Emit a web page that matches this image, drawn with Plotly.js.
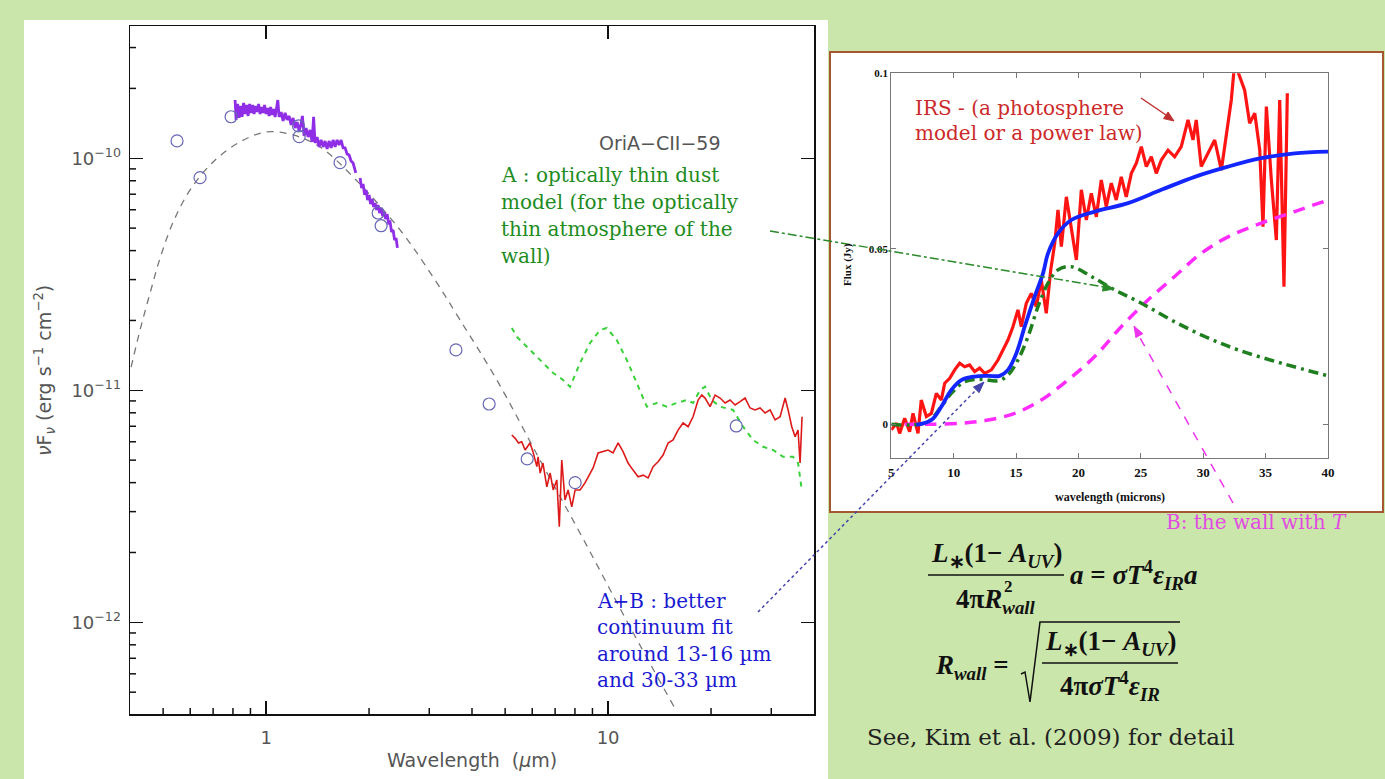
<!DOCTYPE html>
<html>
<head>
<meta charset="utf-8">
<script src="https://cdn.plot.ly/plotly-3.0.1.min.js"></script>
<style>html,body{margin:0;padding:0;background:#cbe6aa;}#chart{width:1385px;height:779px;}</style>
</head>
<body>
<div id="chart"></div>
<script>
// ---------------- DATA (main SED panel) ----------------
// photometry (micron, erg s^-1 cm^-2)
const sedWave = [0.549, 0.641, 0.790, 1.244, 1.249, 1.645, 2.126, 2.169, 3.59, 4.49, 5.80, 8.01, 23.7];
const sedFlux = [1.188e-10, 8.25e-11, 1.51e-10, 1.378e-10, 1.239e-10, 9.57e-11, 5.81e-11, 5.12e-11, 1.493e-11, 8.73e-12, 5.06e-12, 4.0e-12, 7.02e-12];

// photosphere (dashed grey)
const bbWave = [0.403, 0.428, 0.458, 0.490, 0.535, 0.5995, 0.700, 0.839, 1.0, 1.199, 1.438, 1.796, 2.464, 3.077, 3.69, 4.73, 6.32, 8.40, 11.59, 15.6];
const bbFlux = [1.259e-11, 1.82e-11, 2.627e-11, 3.72e-11, 5.31e-11, 7.30e-11, 9.64e-11, 1.176e-10, 1.298e-10, 1.26e-10, 1.119e-10, 8.31e-11, 4.91e-11, 3.08e-11, 2.01e-11, 1.107e-11, 5.01e-12, 2.33e-12, 9.55e-13, 4.32e-13];

// optical / NIR spectrum (purple), null = gap
const specWave = [0.8116,0.8171,0.8254,0.8337,0.8423,0.8508,0.8595,0.8682,0.8770,0.8859,0.8949,0.9040,0.9132,0.9224,0.9318,0.9412,0.9508,0.9604,0.9701,0.9800,0.9899,1.0,1.0102,1.0204,1.0308,1.0412,1.0518,1.0625,1.0732,1.0820,1.0915,1.1063,1.1212,1.1365,1.1519,1.1675,1.1834,1.1994,1.2157,1.2322,1.2489,1.2658,1.2769,1.2915,1.3090,1.3268,1.3448,1.3630,1.3768,1.3908,1.4097,1.4288,1.4482,1.4678,1.4877,1.5079,1.5283,1.5491,1.5701,1.5913,1.6129,1.6348,1.6569,1.6794,1.7022,1.7252,1.7486,1.7724,1.7964,1.8207,1.8293,null,1.8831,1.9022,1.9215,1.9410,1.9607,1.9806,2.0007,2.0210,2.0415,2.0623,2.0832,2.1043,2.1257,2.1473,2.1691,2.1911,2.2133,2.2358,2.2585,2.2814,2.3046,2.3280,2.3516,2.3755,2.3996,2.4207];
const specFlux = [1.783e-10,1.463e-10,1.714e-10,1.492e-10,1.680e-10,1.507e-10,1.731e-10,1.552e-10,1.697e-10,1.522e-10,1.714e-10,1.568e-10,1.697e-10,1.552e-10,1.680e-10,1.583e-10,1.714e-10,1.552e-10,1.664e-10,1.568e-10,1.697e-10,1.552e-10,1.647e-10,1.522e-10,1.664e-10,1.537e-10,1.631e-10,1.507e-10,1.647e-10,1.783e-10,1.507e-10,1.583e-10,1.448e-10,1.568e-10,1.463e-10,1.522e-10,1.392e-10,1.492e-10,1.351e-10,1.434e-10,1.311e-10,1.405e-10,1.522e-10,1.248e-10,1.351e-10,1.235e-10,1.324e-10,1.176e-10,1.507e-10,1.164e-10,1.235e-10,1.119e-10,1.199e-10,1.119e-10,1.187e-10,1.097e-10,1.187e-10,1.108e-10,1.199e-10,1.119e-10,1.199e-10,1.141e-10,1.199e-10,1.108e-10,1.108e-10,1.044e-10,1.033e-10,9.74e-11,9.54e-11,8.90e-11,8.64e-11,null,8.22e-11,7.45e-11,7.75e-11,6.95e-11,7.30e-11,6.61e-11,6.95e-11,6.35e-11,6.68e-11,6.17e-11,6.42e-11,5.99e-11,6.29e-11,5.81e-11,6.11e-11,5.64e-11,5.87e-11,5.47e-11,5.75e-11,5.26e-11,5.31e-11,4.81e-11,4.91e-11,4.44e-11,4.53e-11,4.11e-11];

// IRS spectrum (red)
const irsWave = [5.23,5.35,5.47,5.59,5.72,5.91,6.03,6.19,6.24,6.33,6.45,6.62,6.77,6.91,7.08,7.20,7.32,7.48,7.64,7.83,8.01,8.28,8.56,8.74,9.04,9.35,9.67,10.0,10.34,10.70,11.06,11.44,11.83,12.24,12.66,13.09,13.54,14.00,14.48,14.98,15.49,16.02,16.57,17.14,17.72,18.33,18.79,19.21,19.87,20.56,21.26,21.99,22.74,23.51,24.32,25.15,26.01,26.90,27.82,28.78,29.76,30.78,31.84,32.93,33.60,34.44,35.22,35.93,36.42,36.91];
const irsFlux = [6.42e-12,6.21e-12,5.93e-12,6.00e-12,5.53e-12,5.93e-12,5.44e-12,4.69e-12,5.17e-12,4.40e-12,4.86e-12,3.84e-12,4.40e-12,3.72e-12,4.11e-12,2.58e-12,5.01e-12,3.37e-12,3.72e-12,3.15e-12,3.72e-12,3.72e-12,3.99e-12,4.24e-12,4.63e-12,5.37e-12,5.44e-12,5.53e-12,5.37e-12,5.93e-12,5.44e-12,4.86e-12,4.53e-12,4.24e-12,4.31e-12,4.19e-12,4.69e-12,4.92e-12,5.26e-12,5.93e-12,6.11e-12,6.74e-12,7.23e-12,6.97e-12,7.69e-12,9.08e-12,9.54e-12,9.26e-12,8.50e-12,9.54e-12,9.26e-12,8.82e-12,9.08e-12,8.64e-12,8.93e-12,9.26e-12,8.39e-12,8.23e-12,8.39e-12,7.98e-12,8.23e-12,7.45e-12,7.69e-12,9.26e-12,8.23e-12,6.97e-12,6.31e-12,6.74e-12,4.86e-12,7.69e-12];

// optically thin dust model (green dashed)
const dustWave = [5.23,5.41,5.64,6.03,6.45,6.91,7.39,7.74,8.28,8.86,9.48,9.91,10.60,11.34,12.13,12.98,13.88,14.85,15.88,16.99,17.72,18.58,19.21,20.10,21.26,23.20,24.81,26.55,28.39,30.37,32.49,34.75,35.93,36.84];
const dustFlux = [1.856e-11,1.70e-11,1.60e-11,1.448e-11,1.311e-11,1.187e-11,1.108e-11,1.036e-11,1.311e-11,1.60e-11,1.82e-11,1.856e-11,1.647e-11,1.351e-11,1.075e-11,8.50e-12,8.82e-12,8.50e-12,8.82e-12,9.08e-12,8.82e-12,1.003e-11,1.036e-11,9.08e-12,8.50e-12,8.23e-12,6.97e-12,6.11e-12,5.71e-12,5.53e-12,5.17e-12,5.17e-12,4.86e-12,3.72e-12];

// ---------------- DATA (inset, Jy vs micron) ----------------
const inIrsWave = [5.0,5.43,5.67,6.07,6.47,6.74,7.14,7.40,7.81,8.21,8.61,9.01,9.28,9.68,10.08,10.48,10.88,11.28,11.68,12.08,12.49,13.02,13.55,13.95,14.35,14.75,15.15,15.42,15.82,16.22,16.62,17.02,17.42,17.78,18.10,18.36,18.63,19.03,19.43,19.83,20.23,20.63,21.03,21.43,21.83,22.23,22.63,23.03,23.43,23.83,24.24,24.64,25.04,25.44,25.84,26.24,26.64,27.18,27.71,28.24,28.78,29.18,29.44,29.84,30.38,30.92,31.45,31.85,32.25,32.52,32.92,33.32,33.72,34.13,34.53,34.79,35.06,35.46,35.86,36.13,36.47,36.74];
const inIrsFlux = [-0.0016,0.0003,-0.0026,0.0017,-0.0021,0.0031,-0.0026,0.0069,0.0022,0.0031,0.0088,0.0069,0.0117,0.0131,0.0155,0.0174,0.0164,0.0169,0.0150,0.0160,0.0145,0.0155,0.0183,0.0212,0.0240,0.0278,0.0326,0.0278,0.0345,0.0373,0.0335,0.0411,0.0316,0.0440,0.0516,0.0611,0.0506,0.0648,0.0563,0.0468,0.0668,0.0582,0.0658,0.0591,0.0696,0.0620,0.0687,0.0639,0.0705,0.0648,0.0715,0.0744,0.0791,0.0734,0.0762,0.0715,0.0753,0.0781,0.0762,0.0791,0.0867,0.0810,0.0867,0.0734,0.0772,0.0810,0.0724,0.0829,0.0924,0.1030,0.0990,0.0952,0.0858,0.0886,0.0781,0.0563,0.0905,0.0696,0.0525,0.0924,0.0392,0.0943];
const fitWave = [7.0,8.21,9.01,9.81,10.61,11.68,12.75,13.69,14.35,15.02,15.69,16.49,17.16,17.56,18.36,19.43,21.30,23.97,26.64,29.32,31.99,34.65,37.33,40.0];
const fitFlux = [-0.0002,0.0012,0.0050,0.0098,0.0126,0.0136,0.0138,0.0138,0.0155,0.0202,0.0278,0.0364,0.0430,0.0487,0.0544,0.0582,0.0606,0.0630,0.0668,0.0705,0.0734,0.0758,0.0772,0.0777];
const modelAWave = [5.0,6.6,7.94,9.0,9.81,10.88,12.21,13.55,14.35,15.15,15.96,16.76,17.56,18.36,19.43,21.03,22.90,25.04,27.44,30.12,32.79,36.26,40.0];
const modelAFlux = [0,-0.0002,0.0007,0.005,0.0088,0.0121,0.0128,0.0124,0.0140,0.0183,0.0250,0.0335,0.0402,0.0440,0.0449,0.0421,0.0383,0.0345,0.0297,0.0250,0.0212,0.0174,0.0138];
const wallWave = [6.07,7.94,10.61,12.75,14.89,17.02,19.16,21.30,23.43,25.57,27.71,29.84,31.99,34.65,37.33,40.0];
const wallFlux = [0,0,0.0003,0.0012,0.0031,0.0069,0.0126,0.0193,0.0278,0.0354,0.0421,0.0487,0.0534,0.0573,0.0606,0.0639];

// tick labels
const mainXTicks = [1, 10];
const mainXTickText = ['1', '10'];
const mainXMinor = [0.5,0.6,0.7,0.8,0.9,2,3,4,5,6,7,8,9,20,30];
const mainYTicks = [1e-12, 1e-11, 1e-10];
const mainYTickText = ['10<sup>−12</sup>', '10<sup>−11</sup>', '10<sup>−10</sup>'];
const mainYMinor = [5e-13,6e-13,7e-13,8e-13,9e-13,2e-12,3e-12,4e-12,5e-12,6e-12,7e-12,8e-12,9e-12,2e-11,3e-11,4e-11,5e-11,6e-11,7e-11,8e-11,9e-11,2e-10,3e-10];
const insetXTicks = [5,10,15,20,25,30,35,40];
const insetYTicks = [0, 0.05, 0.1];
const insetYTickText = ['0', '0.05', '0.1'];

// ---------------- LAYOUT HELPERS ----------------
const W = 1385, H = 779;
const px = x => x / W;
const py = y => 1 - y / H;
const xMainRange = [Math.log10(0.4), Math.log10(40)];
const yMainRange = [-12.395, -9.43];

const traces = [
  {x: bbWave, y: bbFlux, type: 'scatter', mode: 'lines', line: {color: '#777', width: 1.3, dash: '7px,6px', shape: 'spline'}, xaxis: 'x', yaxis: 'y', hoverinfo: 'skip'},
  {x: dustWave, y: dustFlux, type: 'scatter', mode: 'lines', line: {color: '#3bd13b', width: 2, dash: '5px,5px'}, xaxis: 'x', yaxis: 'y'},
  {x: irsWave, y: irsFlux, type: 'scatter', mode: 'lines', line: {color: '#dd1a1a', width: 1.6}, xaxis: 'x', yaxis: 'y'},
  {x: specWave, y: specFlux, type: 'scatter', mode: 'lines', connectgaps: false, line: {color: '#8f2ee6', width: 2.8}, xaxis: 'x', yaxis: 'y'},
  {x: sedWave, y: sedFlux, type: 'scatter', mode: 'markers', marker: {symbol: 'circle-open', size: 12, color: '#6767b5', line: {width: 1.2}}, xaxis: 'x', yaxis: 'y'},
  // inset
  {x: inIrsWave, y: inIrsFlux, type: 'scatter', mode: 'lines', line: {color: '#ff1414', width: 3.2}, xaxis: 'x2', yaxis: 'y2'},
  {x: wallWave, y: wallFlux, type: 'scatter', mode: 'lines', line: {color: '#ff2bff', width: 3.5, dash: '12px,8px', shape: 'spline'}, xaxis: 'x2', yaxis: 'y2'},
  {x: modelAWave, y: modelAFlux, type: 'scatter', mode: 'lines', line: {color: '#1f7f1f', width: 3.5, dash: '10px,5px,3px,5px', shape: 'spline'}, xaxis: 'x2', yaxis: 'y2'},
  {x: fitWave, y: fitFlux, type: 'scatter', mode: 'lines', line: {color: '#1426ff', width: 3.8, shape: 'spline'}, xaxis: 'x2', yaxis: 'y2'}
];

const gray = '#555';
const serif = 'DejaVu Serif';
const eqFont = {family: 'Liberation Serif', size: 27, color: '#111', weight: 'bold'};

function txt(t, x, y, opts) {
  return Object.assign({text: t, x: px(x), y: py(y), xref: 'paper', yref: 'paper', showarrow: false, xanchor: 'left', yanchor: 'middle'}, opts || {});
}
// filled arrow head (triangle) pointing from tail (tx,ty) to head (hx,hy), pixel coords
function headShape(hx, hy, tx, ty, color, len, half) {
  const dx = hx - tx, dy = hy - ty, d = Math.hypot(dx, dy);
  const ux = dx / d, uy = dy / d, nx = -uy, ny = ux;
  const bx = hx - len * ux, by = hy - len * uy;
  const p = [[hx, hy], [bx + half * nx, by + half * ny], [bx - half * nx, by - half * ny]];
  return {type: 'path', xref: 'paper', yref: 'paper', fillcolor: color, line: {color: color, width: 1},
    path: `M ${px(p[0][0])},${py(p[0][1])} L ${px(p[1][0])},${py(p[1][1])} L ${px(p[2][0])},${py(p[2][1])} Z`};
}
function seg(x0, y0, x1, y1, color, width, dash) {
  return {type: 'line', xref: 'paper', yref: 'paper', x0: px(x0), y0: py(y0), x1: px(x1), y1: py(y1), line: {color: color, width: width, dash: dash || 'solid'}};
}
// minor ticks on the main log axes, placed through the axes' own scales (x/y refs, pixel length)
const minorLen = 6;
const xLo = Math.pow(10, xMainRange[0]), xHi = Math.pow(10, xMainRange[1]);
const yLo = Math.pow(10, yMainRange[0]), yHi = Math.pow(10, yMainRange[1]);
const minorTickShapes = [];
mainXMinor.forEach(v => {
  [[yLo, minorLen], [yHi, -minorLen]].forEach(([anchor, len]) => {
    minorTickShapes.push({type: 'line', xref: 'x', yref: 'y', ysizemode: 'pixel', yanchor: anchor,
      x0: v, x1: v, y0: 0, y1: len, line: {color: '#111', width: 1.5}});
  });
});
mainYMinor.forEach(v => {
  [[xLo, minorLen], [xHi, -minorLen]].forEach(([anchor, len]) => {
    minorTickShapes.push({type: 'line', xref: 'x', yref: 'y', xsizemode: 'pixel', xanchor: anchor,
      y0: v, y1: v, x0: 0, x1: len, line: {color: '#111', width: 1.5}});
  });
});

const green = '#1e8c1e', blue = '#1a1ad2';
const annotations = [
  txt('<i>ν</i>F<sub><i>ν</i></sub> (erg s<sup>−1</sup> cm<sup>−2</sup>)', 44, 371, {xanchor: 'center', textangle: -90, font: {size: 19, color: gray}}),
  txt('Wavelength  (<i>µ</i>m)', 472, 760, {xanchor: 'center', font: {size: 19, color: gray}}),
  txt('OriA−CII−59', 660, 143, {xanchor: 'center', font: {size: 19, color: gray}}),
  txt('A : optically thin dust', 499, 175, {font: {family: serif, size: 20, color: green}}),
  txt('model (for the optically', 499, 202, {font: {family: serif, size: 20, color: green}}),
  txt('thin atmosphere of the', 499, 229, {font: {family: serif, size: 20, color: green}}),
  txt('wall)', 499, 256, {font: {family: serif, size: 20, color: green}}),
  txt('A+B : better', 595, 601, {font: {family: serif, size: 20, color: blue}}),
  txt('continuum fit', 595, 627, {font: {family: serif, size: 20, color: blue}}),
  txt('around 13-16 µm', 595, 654, {font: {family: serif, size: 20, color: blue}}),
  txt('and 30-33 µm', 595, 680, {font: {family: serif, size: 20, color: blue}}),
  txt('IRS - (a photosphere', 913, 108, {font: {family: serif, size: 20, color: '#cc2a2a'}}),
  txt('model or a power law)', 913, 133, {font: {family: serif, size: 20, color: '#cc2a2a'}}),
  txt('B: the wall with <i>T</i>', 1164, 522, {font: {family: serif, size: 20, color: '#e24ae2'}}),
  txt('See, Kim et al. (2009) for detail', 865, 737, {font: {family: serif, size: 23, color: '#222'}}),
  txt('Flux (Jy)', 847, 265, {xanchor: 'center', textangle: -90, font: {family: 'Liberation Serif', size: 11, color: '#111', weight: 'bold'}}),
  txt('wavelength (microns)', 1110, 497, {xanchor: 'center', font: {family: 'Liberation Serif', size: 12, color: '#111', weight: 'bold'}}),
  // equation 1
  txt('<i>L</i><sub>∗</sub>(1− <i>A</i><sub><i>UV</i></sub>)', 996, 555, {xanchor: 'center', font: eqFont}),
  txt('4π<i>R</i><sub><i>wall</i></sub>', 996, 601, {xanchor: 'center', font: eqFont}),
  txt('2', 1008, 586, {xanchor: 'center', font: {family: 'Liberation Serif', size: 17, color: '#111', weight: 'bold'}}),
  txt('<i>a</i> = <i>σT</i><sup>4</sup><i>ε</i><sub><i>IR</i></sub><i>a</i>', 1068, 575, {font: eqFont}),
  // equation 2
  txt('<i>R</i><sub><i>wall</i></sub> =', 933, 667, {font: eqFont}),
  txt('<i>L</i><sub>∗</sub>(1− <i>A</i><sub><i>UV</i></sub>)', 1110, 643, {xanchor: 'center', font: eqFont}),
  txt('4π<i>σT</i><sup>4</sup><i>ε</i><sub><i>IR</i></sub>', 1110, 686, {xanchor: 'center', font: eqFont})
];

const shapes = [
  {type: 'rect', xref: 'paper', yref: 'paper', x0: px(24), x1: px(828), y0: py(779), y1: py(20), fillcolor: '#ffffff', line: {width: 0}, layer: 'below'},
  {type: 'rect', xref: 'paper', yref: 'paper', x0: px(830), x1: px(1383), y0: py(512), y1: py(52), fillcolor: '#ffffff', line: {color: '#a5582f', width: 2}, layer: 'below'},
  // pointer lines
  seg(770, 231, 1104, 287, '#2a8a2a', 1.5, 'dashdot'),
  headShape(1114, 289, 770, 231, '#2a8a2a', 11, 4),
  seg(758, 612, 977, 389, '#4444aa', 1.5, 'dot'),
  headShape(984, 382, 758, 612, '#4444aa', 11, 4),
  seg(1233, 503, 1139, 336, '#ee33ee', 1.5, 'dash'),
  headShape(1134, 326, 1233, 503, '#ee33ee', 11, 4),
  seg(1141, 98, 1166, 115, '#c03030', 1.5),
  headShape(1174, 121, 1141, 98, '#c03030', 10, 4),
  // fraction bars
  seg(928, 575, 1064, 575, '#111', 1.5),
  seg(1042, 663, 1178, 663, '#111', 1.5),
  // radical sign
  {type: 'path', xref: 'paper', yref: 'paper', path: `M ${px(1021)},${py(674)} L ${px(1025)},${py(672)} L ${px(1030)},${py(702)} L ${px(1040)},${py(622)} L ${px(1180)},${py(622)}`, line: {color: '#111', width: 1.5}}
].concat(minorTickShapes);

const axisCommon = {showgrid: false, zeroline: false, showline: true, mirror: 'ticks', ticks: 'inside'};

const layout = {
  width: W, height: H,
  margin: {l: 0, r: 0, t: 0, b: 0},
  paper_bgcolor: '#cbe6aa',
  plot_bgcolor: 'rgba(0,0,0,0)',
  showlegend: false,
  font: {family: 'DejaVu Sans', color: gray},
  xaxis: Object.assign({}, axisCommon, {
    type: 'log', range: xMainRange, domain: [px(130), px(814)], anchor: 'y',
    linecolor: '#111', linewidth: 1.5, tickcolor: '#111', tickwidth: 1.5, ticklen: 13,
    tickmode: 'array', tickvals: mainXTicks, ticktext: mainXTickText,
    tickfont: {size: 18, color: gray}, ticklabelstandoff: 7
  }),
  yaxis: Object.assign({}, axisCommon, {
    type: 'log', range: yMainRange, domain: [py(714), py(26)], anchor: 'x',
    linecolor: '#111', linewidth: 1.5, tickcolor: '#111', tickwidth: 1.5, ticklen: 13,
    tickmode: 'array', tickvals: mainYTicks, ticktext: mainYTickText,
    tickfont: {size: 18, color: gray}, ticklabelstandoff: 4
  }),
  xaxis2: Object.assign({}, axisCommon, {
    range: [5, 40], domain: [px(891.3), px(1328)], anchor: 'y2',
    linecolor: '#777', linewidth: 1, tickcolor: '#777', ticklen: 5,
    tickmode: 'array', tickvals: insetXTicks,
    tickfont: {family: 'Liberation Serif', size: 13, color: '#111', weight: 'bold'}, ticklabelstandoff: 2
  }),
  yaxis2: Object.assign({}, axisCommon, {
    range: [-0.0097, 0.1], domain: [py(458.3), py(73.3)], anchor: 'x2',
    linecolor: '#777', linewidth: 1, tickcolor: '#777', ticklen: 5,
    tickmode: 'array', tickvals: insetYTicks, ticktext: insetYTickText,
    tickfont: {family: 'Liberation Serif', size: 11, color: '#111', weight: 'bold'}
  }),
  shapes: shapes,
  annotations: annotations
};

Plotly.newPlot('chart', traces, layout, {displayModeBar: false, staticPlot: true});
</script>
</body>
</html>
